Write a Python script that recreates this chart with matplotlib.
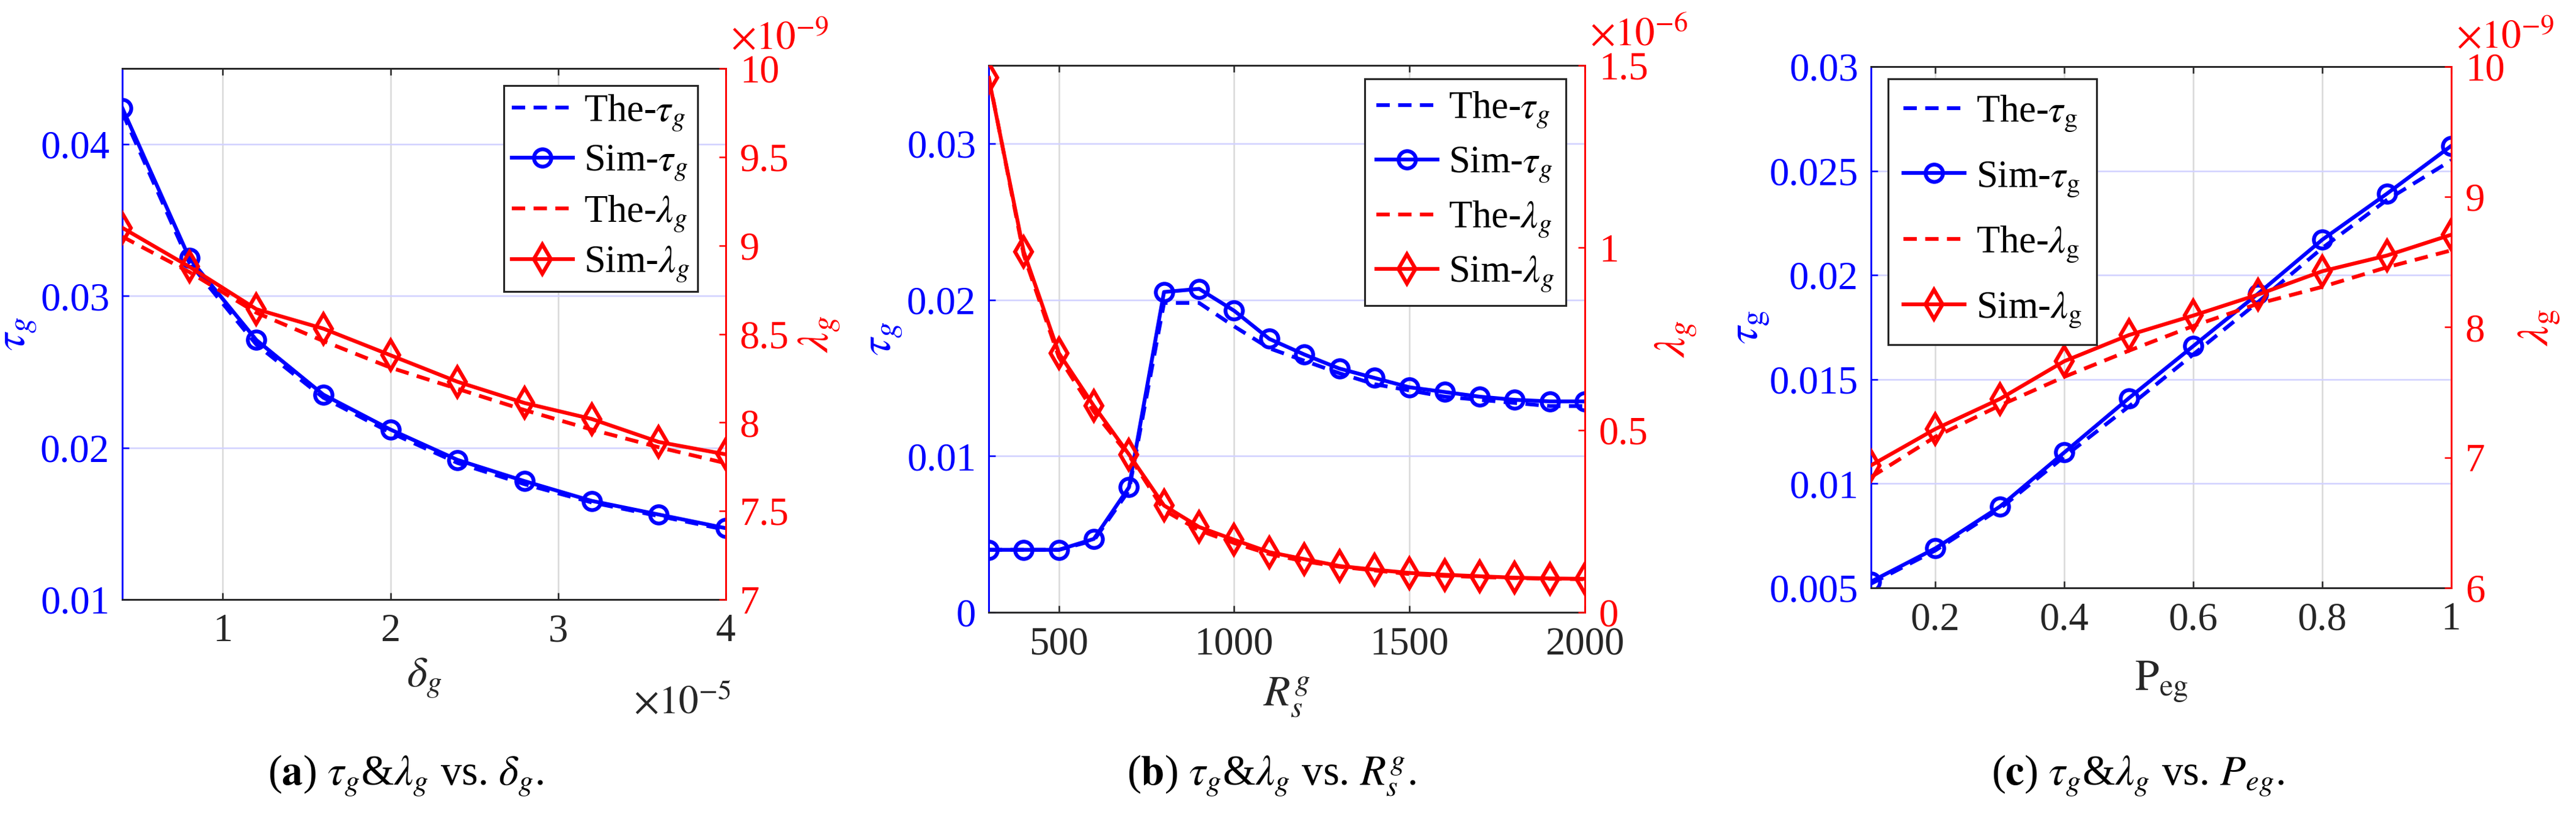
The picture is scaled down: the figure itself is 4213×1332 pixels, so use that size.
import matplotlib
matplotlib.use('Agg')
import matplotlib.pyplot as plt
from matplotlib.ticker import FuncFormatter

plt.rcParams['font.family'] = 'serif'
plt.rcParams['font.serif'] = ['Liberation Serif', 'DejaVu Serif']
plt.rcParams['mathtext.fontset'] = 'stix'

# ---- data ----
# (a) x in units of 1e-5, lambda in units of 1e-9
delta_g = [0.4, 0.8, 1.2, 1.6, 2.0, 2.4, 2.8, 3.2, 3.6, 4.0]
the_tau_a = [0.0421, 0.0322, 0.0268, 0.0233, 0.0210, 0.0190, 0.0176, 0.0164, 0.0155, 0.0146]
sim_tau_a = [0.0424, 0.0325, 0.0271, 0.0235, 0.0212, 0.0192, 0.0178, 0.0165, 0.0156, 0.0147]
the_lam_a = [9.05, 8.85, 8.62, 8.46, 8.31, 8.19, 8.07, 7.96, 7.86, 7.77]
sim_lam_a = [9.10, 8.88, 8.64, 8.53, 8.38, 8.23, 8.11, 8.02, 7.89, 7.82]

# (b) lambda in units of 1e-6
rs_g = [300, 400, 500, 600, 700, 800, 900, 1000, 1100, 1200,
        1300, 1400, 1500, 1600, 1700, 1800, 1900, 2000]
the_tau_b = [0.0040, 0.0040, 0.0040, 0.0046, 0.0078, 0.0198, 0.0198, 0.0183, 0.0169, 0.0161,
             0.0153, 0.0146, 0.0142, 0.0138, 0.0136, 0.0134, 0.0132, 0.0132]
sim_tau_b = [0.0040, 0.0040, 0.0040, 0.0047, 0.0080, 0.0205, 0.0207, 0.0193, 0.0175, 0.0165,
             0.0156, 0.0150, 0.0144, 0.0141, 0.0138, 0.0136, 0.0135, 0.0135]
the_lam_b = [1.47, 0.98, 0.70, 0.55, 0.43, 0.28, 0.225, 0.19, 0.16, 0.14,
             0.125, 0.115, 0.105, 0.100, 0.097, 0.094, 0.092, 0.091]
sim_lam_b = [1.466, 0.989, 0.711, 0.566, 0.433, 0.293, 0.234, 0.199, 0.165, 0.146,
             0.127, 0.117, 0.108, 0.103, 0.099, 0.095, 0.093, 0.092]

# (c) lambda in units of 1e-9
p_eg = [0.1, 0.2, 0.3, 0.4, 0.5, 0.6, 0.7, 0.8, 0.9, 1.0]
the_tau_c = [0.0052, 0.0068, 0.0088, 0.0113, 0.0137, 0.0162, 0.0187, 0.0213, 0.0236, 0.0255]
sim_tau_c = [0.0053, 0.0069, 0.0089, 0.0115, 0.0141, 0.0166, 0.0191, 0.0217, 0.0239, 0.0262]
the_lam_c = [6.85, 7.16, 7.40, 7.62, 7.82, 8.01, 8.18, 8.31, 8.46, 8.59]
sim_lam_c = [6.94, 7.22, 7.45, 7.74, 7.94, 8.09, 8.25, 8.43, 8.55, 8.71]

BLUE = (0, 0, 1)
RED = (1, 0, 0)
DARK = (0.15, 0.15, 0.15)
TICK_FS = 15.5
LEG_FS = 15
DPI = 300
gfmt = FuncFormatter(lambda v, p: '%g' % round(v, 6))

fig = plt.figure(figsize=(4213 / DPI, 1332 / DPI), dpi=DPI)


def panel(rect, x, the_tau, sim_tau, the_lam, sim_lam, xlim, xticks, ylim_l, yticks_l,
          ylim_r, yticks_r, xlabel, ylabel_l, ylabel_r, label_xy, leg_labels, leg_loc,
          leg_anchor, leg_sp, rexp, xexp=None):
    ax = fig.add_axes(rect)
    ax2 = ax.twinx()

    l1, = ax.plot(x, the_tau, color=BLUE, lw=1.5, ls='--', dashes=(3.5, 2.2))
    l2, = ax.plot(x, sim_tau, color=BLUE, lw=1.5, marker='o', ms=6.8, mfc='none', mew=1.5)
    l3, = ax2.plot(x, the_lam, color=RED, lw=1.5, ls='--', dashes=(3.5, 2.2))
    l4, = ax2.plot(x, sim_lam, color=RED, lw=1.5, marker='d', ms=8, mfc='none', mew=1.5)

    ax.set_xlim(xlim)
    ax.set_xticks(xticks)
    ax.set_ylim(ylim_l)
    ax.set_yticks(yticks_l)
    ax2.set_ylim(ylim_r)
    ax2.set_yticks(yticks_r)
    for a in (ax, ax2):
        a.xaxis.set_major_formatter(gfmt)
        a.yaxis.set_major_formatter(gfmt)

    ax.grid(True, axis='x', color=(0.85, 0.85, 0.85), lw=0.6)
    ax.grid(True, axis='y', color=(0.82, 0.82, 1.0), lw=0.6)
    ax.set_axisbelow(True)

    ax.tick_params(axis='x', direction='in', top=True, length=2.7, width=0.6, colors=DARK,
                   labelsize=TICK_FS, pad=5.5)
    ax.tick_params(axis='y', direction='in', length=2.7, width=0.6, colors=BLUE,
                   labelsize=TICK_FS, pad=5)
    ax2.tick_params(axis='y', direction='in', length=2.7, width=0.6, colors=RED,
                    labelsize=TICK_FS, pad=5.5)

    for s in ('top', 'bottom'):
        ax.spines[s].set_color(DARK)
        ax.spines[s].set_linewidth(0.7)
        ax2.spines[s].set_visible(False)
    ax.spines['left'].set_color(BLUE)
    ax.spines['left'].set_linewidth(0.7)
    ax.spines['right'].set_visible(False)
    ax2.spines['left'].set_visible(False)
    ax2.spines['right'].set_color(RED)
    ax2.spines['right'].set_linewidth(0.7)

    ax.set_xlabel(xlabel, fontsize=17, color=DARK)
    ax.set_ylabel(ylabel_l, fontsize=17.5, color=BLUE)
    ax2.set_ylabel(ylabel_r, fontsize=17.5, color=RED)
    ax.xaxis.set_label_coords(0.5, label_xy[0])
    ax.yaxis.set_label_coords(label_xy[1], 0.5)
    ax2.yaxis.set_label_coords(label_xy[2], 0.5)

    ax2.text(1.008, 1.036, r'$\times10^{%d}$' % rexp, transform=ax2.transAxes, color=RED,
             fontsize=TICK_FS, ha='left', va='baseline')
    if xexp is not None:
        ax.text(1.009, -0.214, r'$\times10^{%d}$' % xexp, transform=ax.transAxes, color=DARK,
                fontsize=TICK_FS, ha='right', va='baseline')

    leg = ax2.legend([l1, l2, l3, l4], leg_labels, loc=leg_loc, bbox_to_anchor=leg_anchor,
                     borderaxespad=0, fontsize=LEG_FS, fancybox=False, framealpha=1,
                     edgecolor=DARK, handlelength=1.6, handletextpad=0.3,
                     labelspacing=leg_sp[0], borderpad=leg_sp[1])
    leg.get_frame().set_linewidth(0.75)
    return ax


tex_labels = [r'The-$\tau_g$', r'Sim-$\tau_g$', r'The-$\lambda_g$', r'Sim-$\lambda_g$']
rm_labels = [r'The-$\tau_{\mathrm{g}}$', r'Sim-$\tau_{\mathrm{g}}$',
             r'The-$\lambda_{\mathrm{g}}$', r'Sim-$\lambda_{\mathrm{g}}$']

panel([0.04747, 0.26351, 0.23427, 0.65240], delta_g, the_tau_a, sim_tau_a,
      the_lam_a, sim_lam_a, (0.4, 4.0), [1, 2, 3, 4], (0.01, 0.045),
      [0.01, 0.02, 0.03, 0.04], (7, 10), [7, 7.5, 8, 8.5, 9, 9.5, 10],
      r'$\delta_g$', r'$\tau_g$', r'$\lambda_g$', (-0.108, -0.138, 1.118),
      tex_labels, 'upper right', (0.953, 0.968), (0.29, 0.2), -9, xexp=-5)

panel([0.38381, 0.24775, 0.23143, 0.67192], rs_g, the_tau_b, sim_tau_b,
      the_lam_b, sim_lam_b, (300, 2000), [500, 1000, 1500, 2000], (0, 0.035),
      [0, 0.01, 0.02, 0.03], (0, 1.5), [0, 0.5, 1, 1.5],
      r'$R_s^g$', r'$\tau_g$', r'$\lambda_g$', (-0.116, -0.140, 1.116),
      tex_labels, 'upper right', (0.968, 0.975), (0.4, 0.3), -6)

panel([0.72632, 0.27778, 0.22525, 0.64039], p_eg, the_tau_c, sim_tau_c,
      the_lam_c, sim_lam_c, (0.1, 1.0), [0.2, 0.4, 0.6, 0.8, 1.0], (0.005, 0.03),
      [0.005, 0.01, 0.015, 0.02, 0.025, 0.03], (6, 10), [6, 7, 8, 9, 10],
      r'$\mathrm{P}_{\mathrm{eg}}$', r'$\tau_{\mathrm{g}}$',
      r'$\lambda_{\mathrm{g}}$', (-0.138, -0.172, 1.113),
      rm_labels, 'upper left', (0.0295, 0.977), (0.69, 0.4), -9)

captions = [r'($\mathbf{a}$) $\tau_g$&$\lambda_g$ vs. $\delta_g$.',
            r'($\mathbf{b}$) $\tau_g$&$\lambda_g$ vs. $R_s^g$.',
            r'($\mathbf{c}$) $\tau_g$&$\lambda_g$ vs. $P_{eg}$.']
for cx, cap in zip([0.1574, 0.4935, 0.8300], captions):
    fig.text(cx, 0.0465, cap, ha='center', va='center', fontsize=16.5, color='black')

fig.savefig('out.png', dpi=DPI)
